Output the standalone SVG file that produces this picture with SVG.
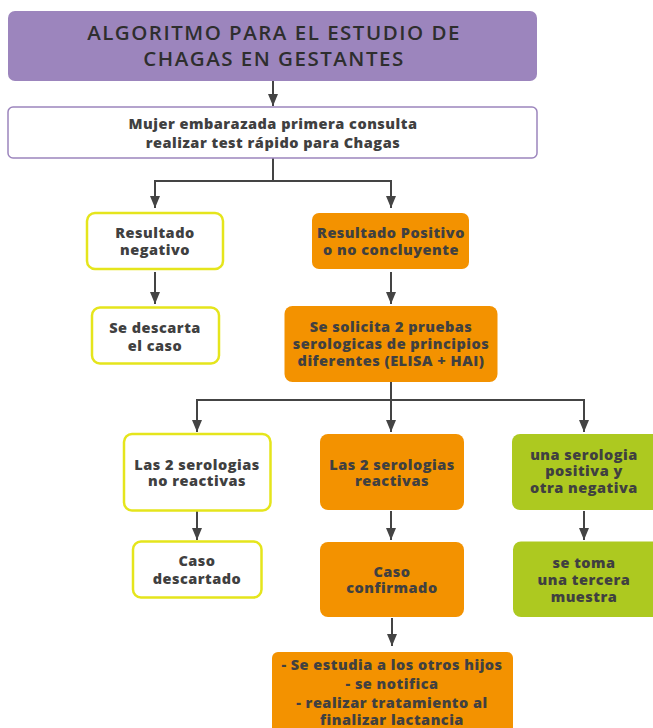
<svg xmlns="http://www.w3.org/2000/svg" width="653" height="728" viewBox="0 0 653 728">
  <style>
    .t { font-family: "Open Sans", "Liberation Sans", sans-serif; font-weight: 800; font-size: 14.5px; letter-spacing: 0.5px; fill: #404040; text-anchor: middle; }
    .title { font-family: "Open Sans", "Liberation Sans", sans-serif; font-weight: 600; font-size: 20.5px; letter-spacing: 1.5px; fill: #2e2e2e; text-anchor: middle; }
    .purple { fill: #9c85bd; }
    .outline { fill: #ffffff; stroke: #9c85bd; stroke-width: 1.5; }
    .yellow { fill: #ffffff; stroke: #e5e51c; stroke-width: 2.5; }
    .orange { fill: #f39200; }
    .green { fill: #adc920; }
    .wire { fill: none; stroke: #444444; stroke-width: 2; }
  </style>
  <defs>
    <marker id="arrow" viewBox="0 0 12 10" refX="12" refY="5" markerWidth="12" markerHeight="10" markerUnits="userSpaceOnUse" orient="auto">
      <path d="M0,0 L12,5 L0,10 Z" fill="#444444"/>
    </marker>
  </defs>
  <rect width="653" height="728" fill="#ffffff"/>

  <g id="connectors">
    <path class="wire" d="M273,81 V106" marker-end="url(#arrow)"/>
    <path class="wire" d="M273,158 V181 H155 V208" marker-end="url(#arrow)"/>
    <path class="wire" d="M273,181 H391 V208" marker-end="url(#arrow)"/>
    <path class="wire" d="M155,272 V304" marker-end="url(#arrow)"/>
    <path class="wire" d="M391,272 V304" marker-end="url(#arrow)"/>
    <path class="wire" d="M391,382 V400 H197 V432" marker-end="url(#arrow)"/>
    <path class="wire" d="M391,400 V432" marker-end="url(#arrow)"/>
    <path class="wire" d="M391,400 H584 V432" marker-end="url(#arrow)"/>
    <path class="wire" d="M197,511 V540" marker-end="url(#arrow)"/>
    <path class="wire" d="M391,511 V540" marker-end="url(#arrow)"/>
    <path class="wire" d="M584,511 V540" marker-end="url(#arrow)"/>
    <path class="wire" d="M392,618 V646" marker-end="url(#arrow)"/>
  </g>

  <g id="title">
    <rect class="purple" x="8" y="11" width="529" height="70" rx="7"/>
    <text class="title" x="274" y="40">ALGORITMO PARA EL ESTUDIO DE</text>
    <text class="title" x="274" y="65.5">CHAGAS EN GESTANTES</text>
  </g>

  <g id="primera-consulta">
    <rect class="outline" x="8" y="107" width="529" height="51" rx="5"/>
    <text class="t" x="273" y="128.5">Mujer embarazada primera consulta</text>
    <text class="t" x="273" y="147.5">realizar test rápido para Chagas</text>
  </g>

  <g id="resultado-negativo">
    <rect class="yellow" x="87" y="213" width="136" height="56" rx="8"/>
    <text class="t" x="155" y="237.5">Resultado</text>
    <text class="t" x="155" y="254.5">negativo</text>
  </g>

  <g id="resultado-positivo">
    <rect class="orange" x="312" y="213" width="157" height="56" rx="7"/>
    <text class="t" x="391" y="237.5">Resultado Positivo</text>
    <text class="t" x="391" y="254.5">o no concluyente</text>
  </g>

  <g id="se-descarta">
    <rect class="yellow" x="92" y="307.5" width="127" height="56" rx="8"/>
    <text class="t" x="155" y="332.5">Se descarta</text>
    <text class="t" x="155" y="351">el caso</text>
  </g>

  <g id="pruebas-serologicas">
    <rect class="orange" x="284.5" y="306" width="213" height="76" rx="8"/>
    <text class="t" x="391" y="331.5">Se solicita 2 pruebas</text>
    <text class="t" x="391" y="349">serologicas de principios</text>
    <text class="t" x="391" y="365.5">diferentes (ELISA + HAI)</text>
  </g>

  <g id="no-reactivas">
    <rect class="yellow" x="124" y="434" width="146.5" height="76.5" rx="8"/>
    <text class="t" x="197" y="470">Las 2 serologias</text>
    <text class="t" x="197" y="486">no reactivas</text>
  </g>

  <g id="reactivas">
    <rect class="orange" x="320" y="434" width="144" height="76" rx="8"/>
    <text class="t" x="392" y="470">Las 2 serologias</text>
    <text class="t" x="392" y="486">reactivas</text>
  </g>

  <g id="una-positiva">
    <rect class="green" x="512" y="434" width="150" height="76" rx="8"/>
    <text class="t" x="584" y="459.5">una serologia</text>
    <text class="t" x="584" y="476">positiva y</text>
    <text class="t" x="584" y="492.5">otra negativa</text>
  </g>

  <g id="caso-descartado">
    <rect class="yellow" x="133" y="541.5" width="128.5" height="56" rx="8"/>
    <text class="t" x="197" y="565.5">Caso</text>
    <text class="t" x="197" y="584">descartado</text>
  </g>

  <g id="caso-confirmado">
    <rect class="orange" x="320" y="542" width="144" height="75" rx="8"/>
    <text class="t" x="392" y="576.5">Caso</text>
    <text class="t" x="392" y="593">confirmado</text>
  </g>

  <g id="tercera-muestra">
    <rect class="green" x="513" y="541.5" width="150" height="75.5" rx="8"/>
    <text class="t" x="584" y="568">se toma</text>
    <text class="t" x="584" y="585">una tercera</text>
    <text class="t" x="584" y="601.5">muestra</text>
  </g>

  <g id="seguimiento">
    <rect class="orange" x="272" y="652" width="241" height="90" rx="6"/>
    <text class="t" x="392" y="670">- Se estudia a los otros hijos</text>
    <text class="t" x="392" y="689">- se notifica</text>
    <text class="t" x="392" y="707.5">- realizar tratamiento al</text>
    <text class="t" x="392" y="725">finalizar lactancia</text>
  </g>
</svg>
